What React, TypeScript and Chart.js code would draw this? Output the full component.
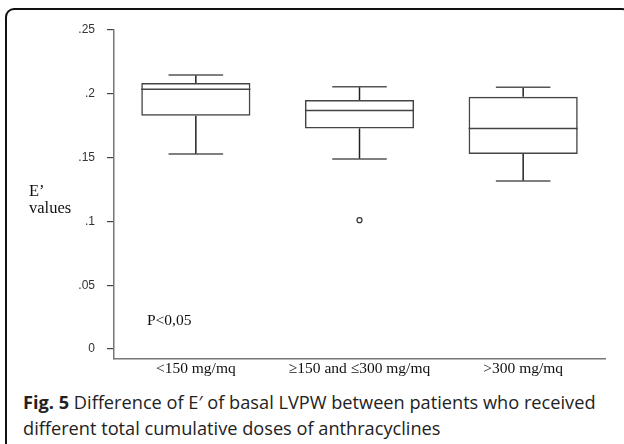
import React, { useEffect, useRef } from 'react';
import { Chart, registerables } from 'chart.js';

Chart.register(...registerables);

// ---------- data ----------
const categories = ['<150 mg/mq', '≥150 and ≤300 mg/mq', '>300 mg/mq'];
const whiskerLow = [0.1528, 0.1489, 0.1317];
const q1 = [0.1828, 0.1729, 0.1528];
const median = [0.2035, 0.187, 0.1729];
const q3 = [0.2085, 0.1951, 0.1977];
const whiskerHigh = [0.2147, 0.2055, 0.2051];
const outliers: (number | null)[] = [null, 0.101, null];
const yTickValues = [0, 0.05, 0.1, 0.15, 0.2, 0.25];
const yTickLabels = ['0', '.05', '.1', '.15', '.2', '.25'];
const yMin = -0.0078;
const yMax = 0.25;
const pValueText = 'P<0,05';
const pValueY = 0.022;
const yTitleLines = ['E’', 'values'];
const captionBold = 'Fig. 5';
const captionLine1 = ' Difference of E′ of basal LVPW between patients who received';
const captionLine2 = 'different total cumulative doses of anthracyclines';

const boxPlugin = {
  id: 'boxWhiskers',
  afterDatasetsDraw(chart: any) {
    const meta = chart.getDatasetMeta(0);
    const y = chart.scales.y;
    const ctx = chart.ctx;
    ctx.save();
    ctx.lineCap = 'butt';
    const line = (x1: number, y1: number, x2: number, y2: number, color: string) => {
      ctx.strokeStyle = color;
      ctx.beginPath();
      ctx.moveTo(x1, y1);
      ctx.lineTo(x2, y2);
      ctx.stroke();
    };
    meta.data.forEach((bar: any, i: number) => {
      const { x, width } = bar.getProps(['x', 'width'], true);
      const half = width / 2;
      const capHalf = width / 4;
      ctx.lineWidth = 1.5;
      const pMed = y.getPixelForValue(median[i]);
      const pQ1 = y.getPixelForValue(q1[i]);
      const pQ3 = y.getPixelForValue(q3[i]);
      const pLo = y.getPixelForValue(whiskerLow[i]);
      const pHi = y.getPixelForValue(whiskerHigh[i]);
      line(x - half, pMed, x + half, pMed, '#444');
      line(x, pQ3, x, pHi, '#222');
      line(x, pQ1, x, pLo, '#222');
      line(x - capHalf, pHi, x + capHalf, pHi, '#555');
      line(x - capHalf, pLo, x + capHalf, pLo, '#555');
    });
    ctx.font = '15.5px "Liberation Serif"';
    ctx.fillStyle = '#111';
    ctx.textAlign = 'left';
    ctx.textBaseline = 'middle';
    ctx.fillText(pValueText, chart.chartArea.left + 33, y.getPixelForValue(pValueY));
    ctx.restore();
  },
};

function BoxChart() {
  const ref = useRef<HTMLCanvasElement | null>(null);
  useEffect(() => {
    if (!ref.current) return;
    const chart = new Chart(ref.current, {
      type: 'bar',
      data: {
        labels: categories,
        datasets: [
          {
            type: 'bar',
            data: q1.map((v, i) => [v, q3[i]]) as any,
            backgroundColor: 'rgba(255,255,255,0)',
            borderColor: '#444',
            borderWidth: 1.5,
            borderSkipped: false,
            barPercentage: 0.667,
            categoryPercentage: 1,
          } as any,
          {
            type: 'line',
            data: outliers as any,
            showLine: false,
            pointStyle: 'circle',
            pointRadius: 2.5,
            pointBorderWidth: 1.2,
            pointBorderColor: '#333',
            pointBackgroundColor: '#fff',
          } as any,
        ],
      },
      options: {
        animation: false,
        responsive: false,
        devicePixelRatio: 1,
        layout: { padding: { top: 30, right: 19, bottom: 0, left: 0 } },
        plugins: { legend: { display: false }, tooltip: { enabled: false }, title: { display: false } },
        scales: {
          x: {
            type: 'category',
            offset: true,
            grid: { display: false, drawTicks: false },
            border: { display: true, color: '#777', width: 1.5 },
            ticks: {
              color: '#111',
              padding: 1,
              maxRotation: 0,
              autoSkip: false,
              font: { family: '"Liberation Serif"', size: 15.5 },
            },
            afterFit: (scale: any) => {
              scale.height = 30;
            },
          },
          y: {
            type: 'linear',
            min: yMin,
            max: yMax,
            grid: { display: true, drawOnChartArea: false, drawTicks: true, tickLength: 7, color: '#444', lineWidth: 1.2 },
            border: { display: true, color: '#777', width: 1.5 },
            ticks: {
              color: '#333',
              padding: 12,
              font: { family: '"Liberation Sans"', size: 12 },
              callback: (v: any) => {
                const idx = yTickValues.findIndex((t) => Math.abs(t - Number(v)) < 1e-9);
                return idx >= 0 ? yTickLabels[idx] : '';
              },
            },
            afterBuildTicks: (scale: any) => {
              scale.ticks = yTickValues.map((v) => ({ value: v }));
            },
            afterFit: (scale: any) => {
              scale.width = 114;
            },
          },
        },
      },
      plugins: [boxPlugin],
    });
    return () => chart.destroy();
  }, []);
  return (
    <canvas
      ref={ref}
      width={624}
      height={389}
      style={{ position: 'absolute', left: 0, top: 0, width: 624, height: 389 }}
    />
  );
}

export default function App() {
  return (
    <div style={{ position: 'fixed', left: 0, top: 0, width: 624, height: 444, overflow: 'hidden', background: '#fff' }}>
      <div
        style={{
          position: 'absolute',
          left: 5,
          top: 8,
          width: 623,
          height: 470,
          border: '2px solid #111',
          borderTopLeftRadius: 9,
          borderTopRightRadius: 6,
          boxSizing: 'border-box',
        }}
      />
      <BoxChart />
      <div
        style={{
          position: 'absolute',
          left: 29,
          top: 182,
          fontFamily: '"Liberation Serif"',
          fontSize: 16.5,
          lineHeight: '17px',
          color: '#111',
        }}
      >
        {yTitleLines.map((l, i) => (
          <div key={i}>{l}</div>
        ))}
      </div>
      <div
        style={{
          position: 'absolute',
          left: 23,
          top: 389,
          fontFamily: '"Open Sans"',
          fontSize: 18.2,
          lineHeight: '26px',
          color: '#222',
          whiteSpace: 'nowrap',
        }}
      >
        <div>
          <b>{captionBold}</b>
          {captionLine1}
        </div>
        <div>{captionLine2}</div>
      </div>
    </div>
  );
}
